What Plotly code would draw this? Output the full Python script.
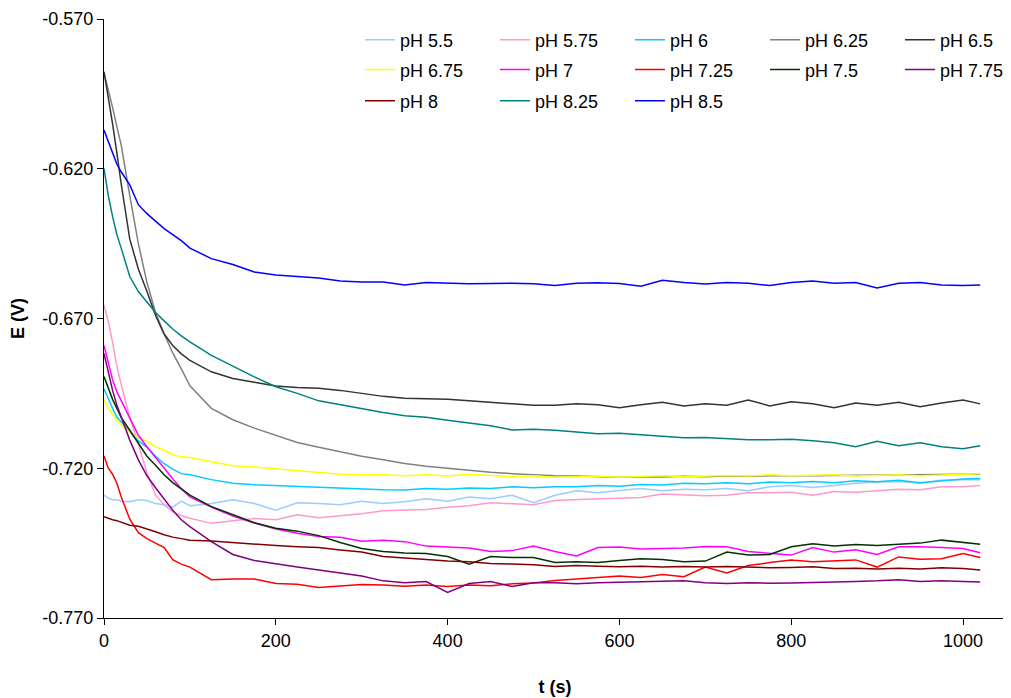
import plotly.graph_objects as go

# time axis (s)
t_s = [0, 5, 10, 15, 20, 30, 40, 50, 60, 70, 80, 90,
       100, 125, 150, 175, 200, 225, 250, 275, 300,
       325, 350, 375, 400, 425, 450, 475, 500,
       525, 550, 575, 600, 625, 650, 675, 700,
       725, 750, 775, 800, 825, 850, 875, 900,
       925, 950, 975, 1000, 1020]

series_names = ["pH 5.5", "pH 5.75", "pH 6", "pH 6.25", "pH 6.5",
                "pH 6.75", "pH 7", "pH 7.25", "pH 7.5", "pH 7.75",
                "pH 8", "pH 8.25", "pH 8.5"]

ph_5_5 = [-0.7290, -0.7300, -0.7305, -0.7305, -0.7310, -0.7312, -0.7305, -0.7308, -0.7318, -0.7322, -0.7330, -0.7310,
          -0.7325, -0.7318, -0.7305, -0.7318, -0.7340, -0.7315, -0.7318, -0.7322, -0.7310,
          -0.7318, -0.7312, -0.7302, -0.7310, -0.7296, -0.7302, -0.7290, -0.7315,
          -0.7290, -0.7275, -0.7282, -0.7274, -0.7268, -0.7275, -0.7270, -0.7272,
          -0.7268, -0.7275, -0.7262, -0.7258, -0.7264, -0.7258, -0.7250, -0.7246,
          -0.7244, -0.7250, -0.7240, -0.7238, -0.7238]

ph_5_75 = [-0.6655, -0.6710, -0.6780, -0.6860, -0.6920, -0.7030, -0.7120, -0.7215, -0.7290, -0.7322, -0.7345, -0.7358,
           -0.7367, -0.7384, -0.7375, -0.7368, -0.7372, -0.7355, -0.7365, -0.7358, -0.7352,
           -0.7342, -0.7340, -0.7338, -0.7330, -0.7325, -0.7315, -0.7318, -0.7322,
           -0.7308, -0.7304, -0.7302, -0.7300, -0.7298, -0.7286, -0.7290, -0.7292,
           -0.7290, -0.7282, -0.7282, -0.7280, -0.7290, -0.7278, -0.7280, -0.7274,
           -0.7270, -0.7272, -0.7262, -0.7262, -0.7258]

ph_6 = [-0.6935, -0.6970, -0.7000, -0.7030, -0.7045, -0.7080, -0.7108, -0.7130, -0.7160, -0.7185, -0.7203, -0.7218,
        -0.7222, -0.7238, -0.7250, -0.7255, -0.7258, -0.7260, -0.7264, -0.7267, -0.7270,
        -0.7272, -0.7273, -0.7268, -0.7270, -0.7266, -0.7268, -0.7262, -0.7265,
        -0.7262, -0.7262, -0.7258, -0.7260, -0.7254, -0.7256, -0.7250, -0.7252,
        -0.7248, -0.7252, -0.7246, -0.7248, -0.7244, -0.7248, -0.7242, -0.7245,
        -0.7240, -0.7248, -0.7242, -0.7236, -0.7234]

ph_6_25 = [-0.5880, -0.5935, -0.5995, -0.6060, -0.6120, -0.6290, -0.6450, -0.6580, -0.6680, -0.6752, -0.6815, -0.6868,
           -0.6925, -0.7000, -0.7038, -0.7066, -0.7090, -0.7114, -0.7130, -0.7145, -0.7160,
           -0.7172, -0.7184, -0.7193, -0.7200, -0.7206, -0.7213, -0.7218, -0.7222,
           -0.7225, -0.7226, -0.7228, -0.7230, -0.7228, -0.7229, -0.7227, -0.7228,
           -0.7226, -0.7227, -0.7225, -0.7226, -0.7225, -0.7224, -0.7223, -0.7223,
           -0.7222, -0.7221, -0.7220, -0.7220, -0.7220]

ph_6_5 = [-0.5876, -0.5960, -0.6050, -0.6148, -0.6250, -0.6435, -0.6535, -0.6610, -0.6690, -0.6752, -0.6790, -0.6818,
          -0.6840, -0.6878, -0.6900, -0.6913, -0.6925, -0.6930, -0.6933, -0.6940, -0.6950,
          -0.6960, -0.6966, -0.6968, -0.6970, -0.6975, -0.6980, -0.6985, -0.6990,
          -0.6990, -0.6985, -0.6988, -0.6998, -0.6988, -0.6980, -0.6992, -0.6985,
          -0.6990, -0.6972, -0.6992, -0.6978, -0.6985, -0.6998, -0.6982, -0.6990,
          -0.6980, -0.6995, -0.6982, -0.6972, -0.6985]

ph_6_75 = [-0.6970, -0.7000, -0.7020, -0.7040, -0.7055, -0.7080, -0.7098, -0.7110, -0.7128, -0.7140, -0.7155, -0.7162,
           -0.7164, -0.7178, -0.7192, -0.7196, -0.7202, -0.7206, -0.7212, -0.7220, -0.7222,
           -0.7222, -0.7225, -0.7222, -0.7226, -0.7220, -0.7224, -0.7228, -0.7225,
           -0.7230, -0.7228, -0.7226, -0.7230, -0.7227, -0.7225, -0.7228, -0.7226,
           -0.7224, -0.7226, -0.7222, -0.7225, -0.7224, -0.7222, -0.7226, -0.7223,
           -0.7222, -0.7225, -0.7223, -0.7220, -0.7218]

ph_7 = [-0.6790, -0.6850, -0.6905, -0.6945, -0.6975, -0.7033, -0.7090, -0.7128, -0.7165, -0.7200, -0.7235, -0.7268,
        -0.7296, -0.7330, -0.7360, -0.7383, -0.7403, -0.7417, -0.7428, -0.7430, -0.7444,
        -0.7440, -0.7445, -0.7460, -0.7463, -0.7466, -0.7478, -0.7475, -0.7460,
        -0.7478, -0.7493, -0.7465, -0.7463, -0.7470, -0.7468, -0.7466, -0.7461,
        -0.7462, -0.7478, -0.7485, -0.7490, -0.7465, -0.7480, -0.7472, -0.7488,
        -0.7462, -0.7462, -0.7465, -0.7468, -0.7482]

ph_7_25 = [-0.7159, -0.7200, -0.7220, -0.7250, -0.7295, -0.7370, -0.7415, -0.7435, -0.7450, -0.7465, -0.7505, -0.7520,
           -0.7530, -0.7572, -0.7570, -0.7570, -0.7585, -0.7587, -0.7598, -0.7594, -0.7588,
           -0.7590, -0.7594, -0.7590, -0.7595, -0.7590, -0.7592, -0.7586, -0.7583,
           -0.7575, -0.7570, -0.7563, -0.7560, -0.7565, -0.7555, -0.7562, -0.7530,
           -0.7550, -0.7525, -0.7515, -0.7506, -0.7512, -0.7508, -0.7506, -0.7530,
           -0.7496, -0.7504, -0.7502, -0.7485, -0.7498]

ph_7_5 = [-0.6894, -0.6935, -0.6970, -0.7000, -0.7030, -0.7073, -0.7115, -0.7160, -0.7190, -0.7222, -0.7248, -0.7270,
          -0.7290, -0.7328, -0.7355, -0.7382, -0.7400, -0.7410, -0.7425, -0.7448, -0.7468,
          -0.7478, -0.7483, -0.7485, -0.7495, -0.7520, -0.7495, -0.7498, -0.7498,
          -0.7515, -0.7512, -0.7515, -0.7508, -0.7502, -0.7505, -0.7512, -0.7510,
          -0.7480, -0.7490, -0.7488, -0.7462, -0.7452, -0.7460, -0.7455, -0.7458,
          -0.7455, -0.7450, -0.7440, -0.7448, -0.7454]

ph_7_75 = [-0.6817, -0.6880, -0.6940, -0.6990, -0.7030, -0.7106, -0.7172, -0.7225, -0.7265, -0.7302, -0.7340, -0.7372,
           -0.7395, -0.7445, -0.7488, -0.7508, -0.7520, -0.7530, -0.7540, -0.7551, -0.7560,
           -0.7576, -0.7582, -0.7578, -0.7615, -0.7585, -0.7578, -0.7595, -0.7582,
           -0.7582, -0.7586, -0.7582, -0.7580, -0.7580, -0.7578, -0.7576, -0.7582,
           -0.7585, -0.7582, -0.7584, -0.7583, -0.7582, -0.7580, -0.7578, -0.7576,
           -0.7572, -0.7578, -0.7576, -0.7578, -0.7580]

ph_8 = [-0.7362, -0.7368, -0.7372, -0.7375, -0.7380, -0.7390, -0.7394, -0.7402, -0.7412, -0.7422, -0.7430, -0.7435,
        -0.7440, -0.7443, -0.7448, -0.7455, -0.7458, -0.7462, -0.7465, -0.7473, -0.7480,
        -0.7495, -0.7500, -0.7505, -0.7510, -0.7512, -0.7518, -0.7520, -0.7522,
        -0.7528, -0.7525, -0.7527, -0.7529, -0.7527, -0.7530, -0.7528, -0.7530,
        -0.7528, -0.7530, -0.7532, -0.7531, -0.7529, -0.7535, -0.7534, -0.7536,
        -0.7534, -0.7536, -0.7532, -0.7535, -0.7540]

ph_8_25 = [-0.6199, -0.6290, -0.6360, -0.6420, -0.6465, -0.6560, -0.6610, -0.6645, -0.6680, -0.6708, -0.6735, -0.6758,
           -0.6778, -0.6823, -0.6860, -0.6895, -0.6928, -0.6950, -0.6975, -0.6988, -0.7002,
           -0.7014, -0.7025, -0.7030, -0.7040, -0.7050, -0.7058, -0.7072, -0.7070,
           -0.7073, -0.7080, -0.7085, -0.7083, -0.7088, -0.7092, -0.7098, -0.7097,
           -0.7102, -0.7105, -0.7105, -0.7103, -0.7108, -0.7115, -0.7128, -0.7110,
           -0.7125, -0.7115, -0.7128, -0.7135, -0.7125]

ph_8_5 = [-0.6071, -0.6110, -0.6150, -0.6185, -0.6210, -0.6254, -0.6320, -0.6350, -0.6375, -0.6400, -0.6420, -0.6440,
          -0.6465, -0.6500, -0.6520, -0.6545, -0.6555, -0.6560, -0.6565, -0.6575, -0.6578,
          -0.6578, -0.6588, -0.6580, -0.6582, -0.6584, -0.6583, -0.6582, -0.6584,
          -0.6590, -0.6582, -0.6581, -0.6583, -0.6592, -0.6572, -0.6580, -0.6585,
          -0.6580, -0.6582, -0.6590, -0.6580, -0.6575, -0.6582, -0.6580, -0.6598,
          -0.6582, -0.6580, -0.6588, -0.6590, -0.6588]

series_values = [ph_5_5, ph_5_75, ph_6, ph_6_25, ph_6_5, ph_6_75, ph_7,
                 ph_7_25, ph_7_5, ph_7_75, ph_8, ph_8_25, ph_8_5]

series_colors = ["#99CCFF", "#FF99CC", "#00CCFF", "#808080", "#333333",
                 "#FFFF00", "#FF00FF", "#FF0000", "#003300", "#800080",
                 "#800000", "#008080", "#0000FF"]

y_ticks = [-0.770, -0.720, -0.670, -0.620, -0.570]
y_tick_labels = ["-0.770", "-0.720", "-0.670", "-0.620", "-0.570"]
x_ticks = [0, 200, 400, 600, 800, 1000]
x_tick_labels = ["0", "200", "400", "600", "800", "1000"]

FONT = "Liberation Sans, Arial, sans-serif"
FS = 18

fig = go.Figure()
legend_ids = ["legend", "legend2", "legend3"]
for i, (name, vals, col) in enumerate(zip(series_names, series_values, series_colors)):
    fig.add_trace(go.Scatter(
        x=t_s, y=vals, mode="lines", name=name,
        line=dict(color=col, width=1.5),
        legend=legend_ids[i // 5],
    ))

leg_common = dict(orientation="h", xanchor="left", yanchor="middle", x=0.2838,
                  entrywidth=90, entrywidthmode="pixels",
                  font=dict(size=FS, family=FONT, color="black"),
                  bgcolor="rgba(0,0,0,0)", borderwidth=0, traceorder="normal")

# the page body adds an 8px offset, so the figure is 8px smaller and margins shifted
fig.update_layout(
    width=1003, height=690,
    margin=dict(l=96, r=5, t=11, b=80, autoexpand=False),
    paper_bgcolor="white", plot_bgcolor="white",
    font=dict(family=FONT, size=FS, color="black"),
    showlegend=True,
    legend=dict(leg_common, y=0.965),
    legend2=dict(leg_common, y=0.915),
    legend3=dict(leg_common, y=0.863),
    xaxis=dict(range=[0, 1050], tickvals=x_ticks, ticktext=x_tick_labels,
               showgrid=False, zeroline=False,
               showline=True, linecolor="black", linewidth=1,
               ticks="outside", ticklen=6, tickcolor="black",
               tickfont=dict(size=FS, family=FONT),
               title=dict(text="<b>t (s)</b>", font=dict(size=FS, family=FONT), standoff=30)),
    yaxis=dict(range=[-0.770, -0.570], tickvals=y_ticks, ticktext=y_tick_labels,
               showgrid=False, zeroline=False,
               showline=True, linecolor="black", linewidth=1,
               ticks="outside", ticklen=6, tickcolor="black",
               tickfont=dict(size=FS, family=FONT),
               title=dict(text="<b>E (V)</b>", font=dict(size=FS, family=FONT), standoff=14)),
)

fig.write_html("out.html")
